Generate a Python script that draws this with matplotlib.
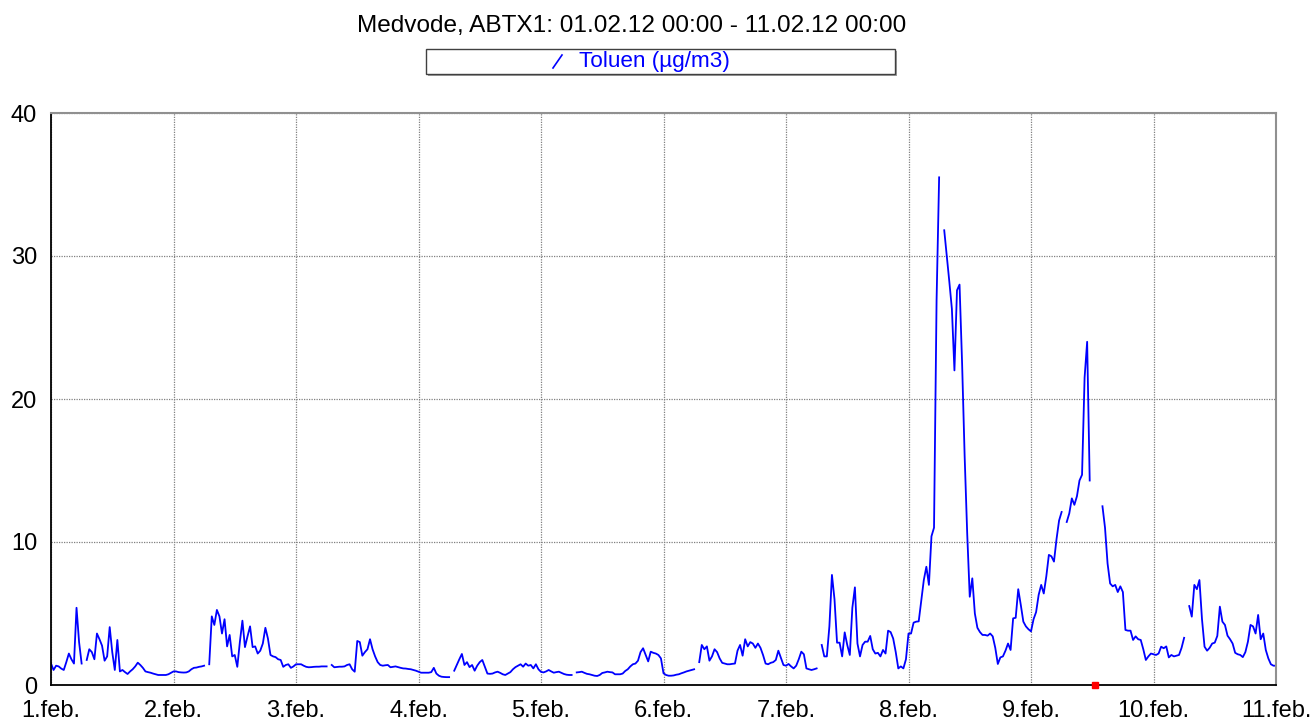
import numpy as np
import matplotlib
matplotlib.use("Agg")
import matplotlib.pyplot as plt
from matplotlib.patches import Rectangle
from matplotlib.lines import Line2D

plt.rcParams['font.family'] = ['Liberation Sans', 'DejaVu Sans']

title = "Medvode, ABTX1: 01.02.12 00:00 - 11.02.12 00:00"
series_name = "Toluen (µg/m3)"
day_labels = ["1.feb.", "2.feb.", "3.feb.", "4.feb.", "5.feb.", "6.feb.",
              "7.feb.", "8.feb.", "9.feb.", "10.feb.", "11.feb."]
y_ticks = [0, 10, 20, 30, 40]

# half-hourly toluene values, one list per day (None = missing)
day1 = [1.5, 1.05, 1.35, 1.3, 1.15, 1.05, 1.6, 2.2, 1.8, 1.5, 5.4, 3.0, 1.5, None,
        1.75, 2.5, 2.3, 1.8, 3.6, 3.2, 2.75, 1.7, 2.0, 4.05, 2.3, 1.05, 3.15, 0.95,
        1.05, 0.9, 0.77, 0.95, 1.1, 1.3, 1.56, 1.4, 1.2, 0.95, 0.9, 0.86, 0.8, 0.75,
        0.7, 0.7, 0.7, 0.7, 0.75, 0.85]
day2 = [0.95, 0.95, 0.9, 0.88, 0.87, 0.88, 0.95, 1.1, 1.2, 1.22, 1.27, 1.3, 1.35, None,
        1.45, 4.8, 4.2, 5.25, 4.8, 3.6, 4.6, 2.7, 3.5, 2.0, 2.1, 1.27, 3.0, 4.5,
        2.65, 3.4, 4.1, 2.65, 2.7, 2.2, 2.4, 2.9, 4.0, 3.25, 2.1, 2.0, 1.95, 1.8,
        1.75, 1.27, 1.4, 1.45, 1.2, 1.3]
day3 = [1.45, 1.45, 1.45, 1.35, 1.27, 1.24, 1.25, 1.27, 1.28, 1.28, 1.3, 1.3, 1.3, None,
        1.4, 1.24, 1.26, 1.28, 1.28, 1.3, 1.4, 1.45, 1.1, 0.93, 3.08, 3.0, 2.05, 2.3,
        2.5, 3.2, 2.5, 2.0, 1.6, 1.4, 1.35, 1.38, 1.4, 1.24, 1.27, 1.3, 1.25, 1.2,
        1.16, 1.15, 1.12, 1.1, 1.05, 1.0]
day4 = [0.93, 0.86, 0.86, 0.86, 0.86, 0.9, 1.2, 0.8, 0.65, 0.58, 0.56, 0.55, 0.55, None,
        1.0, 1.4, 1.8, 2.17, 1.4, 1.6, 1.25, 1.4, 1.0, 1.35, 1.6, 1.75, 1.28, 0.8,
        0.78, 0.8, 0.88, 0.93, 0.85, 0.75, 0.7, 0.8, 0.9, 1.1, 1.25, 1.35, 1.45, 1.28,
        1.5, 1.35, 1.4, 1.16, 1.45, 1.1]
day5 = [0.92, 0.88, 0.95, 1.05, 0.95, 0.86, 0.9, 0.93, 0.85, 0.77, 0.72, 0.7, 0.7, None,
        0.88, 0.9, 0.93, 0.85, 0.78, 0.75, 0.7, 0.65, 0.63, 0.7, 0.84, 0.88, 0.93, 0.9,
        0.88, 0.75, 0.75, 0.75, 0.8, 0.98, 1.1, 1.3, 1.45, 1.5, 1.7, 2.3, 2.57, 2.1,
        1.65, 2.33, 2.25, 2.2, 2.1, 1.86]
day6 = [0.82, 0.7, 0.65, 0.65, 0.67, 0.72, 0.75, 0.82, 0.88, 0.95, 1.0, 1.05, 1.1, None,
        1.6, 2.8, 2.5, 2.7, 1.7, 2.0, 2.5, 2.3, 1.86, 1.55, 1.5, 1.45, 1.45, 1.48,
        1.5, 2.4, 2.8, 2.05, 3.2, 2.7, 3.0, 2.9, 2.6, 2.9, 2.6, 2.1, 1.5, 1.45,
        1.55, 1.6, 1.75, 2.4, 1.9, 1.4]
day7 = [1.35, 1.47, 1.3, 1.16, 1.35, 1.8, 2.33, 2.15, 1.16, 1.1, 1.05, 1.1, 1.16, None,
        2.8, 2.0, 2.0, 4.1, 7.7, 6.0, 2.96, 2.96, 2.0, 3.68, 2.8, 2.1, 5.4, 6.83,
        2.9, 2.0, 2.8, 3.03, 3.03, 3.43, 2.5, 2.2, 2.25, 2.0, 2.45, 2.2, 3.8, 3.7,
        3.25, 2.3, 1.16, 1.3, 1.16, 1.8]
day8 = [3.6, 3.6, 4.36, 4.43, 4.45, 5.9, 7.34, 8.27, 7.0, 10.4, 11.0, 26.9, 35.5, None,
        31.8, 30.0, 28.2, 26.3, 22.0, 27.6, 28.0, 22.5, 16.0, 10.6, 6.17, 7.46, 5.0, 4.0,
        3.7, 3.5, 3.5, 3.45, 3.6, 3.4, 2.6, 1.47, 1.93, 2.0, 2.4, 2.9, 2.45, 4.66,
        4.7, 6.7, 5.6, 4.43, 4.1, 3.9]
day9 = [3.75, 4.6, 5.1, 6.3, 7.0, 6.4, 7.6, 9.1, 9.0, 8.63, 10.2, 11.5, 12.1, None,
        11.4, 12.0, 13.05, 12.6, 13.2, 14.3, 14.7, 21.5, 24.0, 14.3, None, None, None, None,
        12.5, 11.0, 8.5, 7.1, 6.9, 7.0, 6.5, 6.9, 6.5, 3.85, 3.8, 3.8, 3.15, 3.4,
        3.2, 3.15, 2.5, 1.75, 2.0, 2.2]
day10 = [2.15, 2.1, 2.2, 2.68, 2.57, 2.7, 1.93, 2.1, 2.0, 2.05, 2.1, 2.6, 3.3, None,
         5.52, 4.78, 7.0, 6.7, 7.34, 4.6, 2.68, 2.4, 2.6, 2.9, 2.96, 3.43, 5.48, 4.43,
         4.2, 3.45, 3.2, 2.9, 2.25, 2.15, 2.1, 1.95, 2.3, 3.03, 4.2, 4.1, 3.6, 4.9,
         3.2, 3.6, 2.45, 1.86, 1.45, 1.35]
last_value = 1.35

# flagged sample shown as red square on the axis (day offset)
flag_time = 8.52
flag_value = 0

vals = day1 + day2 + day3 + day4 + day5 + day6 + day7 + day8 + day9 + day10 + [last_value]
y = np.array([np.nan if v is None else v for v in vals], dtype=float)
x = np.arange(len(y)) / 48.0

fig = plt.figure(figsize=(13.15, 7.25), dpi=100)
W, H = 1315, 725
ax = fig.add_axes([51 / W, 1 - 685 / H, 1225 / W, 572 / H])

ax.plot(x, y, color='#0000ff', lw=1.3)
ax.plot([flag_time], [flag_value], 's', color='#ff0000', ms=5, clip_on=False, zorder=5)

ax.set_xlim(0, 10)
ax.set_ylim(0, 40)
ax.set_xticks(range(len(day_labels)))
ax.set_xticklabels(day_labels)
ax.set_yticks(y_ticks)
ax.tick_params(axis='both', length=0, labelsize=17)
ax.tick_params(axis='y', pad=10)
ax.tick_params(axis='x', pad=11)
ax.grid(True, color='#808080', ls=(0, (1, 1)), lw=0.9)

for s in ['top', 'right']:
    ax.spines[s].set_color('#909090')
    ax.spines[s].set_linewidth(1.5)
for s in ['left', 'bottom']:
    ax.spines[s].set_color('black')
    ax.spines[s].set_linewidth(1.3)

fig.text(632 / W, 1 - 26 / H, title, ha='center', va='center', fontsize=17.6)

# legend box with shadow
fig.patches.append(Rectangle((428 / W, 1 - 76 / H), 469 / W, 25 / H, transform=fig.transFigure,
                             facecolor='#a0a0a0', edgecolor='none'))
fig.patches.append(Rectangle((426 / W, 1 - 74 / H), 469 / W, 25 / H, transform=fig.transFigure,
                             facecolor='white', edgecolor='#404040', lw=1))
fig.lines.append(Line2D([553 / W, 562 / W], [1 - 68 / H, 1 - 55 / H], transform=fig.transFigure,
                        color='#0000ff', lw=1.2))
fig.text(579 / W, 1 - 61 / H, series_name, ha='left', va='center', fontsize=16.2, color='#0000ff')

fig.savefig("out.png", dpi=100)
